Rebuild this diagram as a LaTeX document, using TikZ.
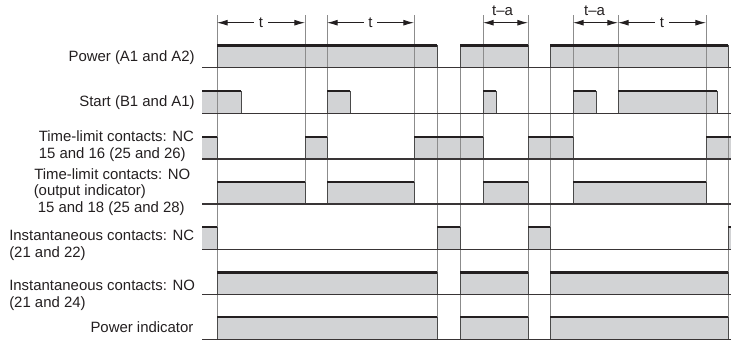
\documentclass[tikz,border=0pt]{standalone}
\usepackage{fontspec}
\setmainfont{Liberation Sans}
\usetikzlibrary{arrows.meta}
\definecolor{tdink}{HTML}{231F20}
\definecolor{tdfill}{HTML}{D2D3D5}
\definecolor{tdgrid}{HTML}{8C8C8C}
\definecolor{tdedge}{HTML}{4A4A4A}

\begin{document}
\begin{tikzpicture}[x=0.75pt,y=-0.75pt,
  lab/.style={font=\fontsize{11.2}{12.5}\selectfont,text=tdink,inner sep=0pt},
  gridline/.style={tdgrid,line width=0.65pt},
  edgeline/.style={tdedge,line width=0.75pt},
  hiline/.style={tdink,line width=1.8pt},
  levelline/.style={tdink!90,line width=0.85pt},
  dimline/.style={tdink,line width=0.65pt,{Latex[length=8pt,width=4.4pt]}-{Latex[length=8pt,width=4.4pt]}}]
  \useasboundingbox (0,0) rectangle (731,343);
  \def\h{22.3}
  % baseline / start / end of every high level
  \def\pulses{67.7/217/437, 67.7/460/528, 67.7/550/728,
    113.3/195/241, 113.3/327/350, 113.3/483/496, 113.3/573/596, 113.3/618/717,
    159/195/217, 159/305/327, 159/414/483, 159/528/573, 159/706/740,
    204/217/305, 204/327/414, 204/483/528, 204/573/706,
    249.3/195/217, 249.3/437/460, 249.3/528/550, 249.3/728/740,
    294.7/217/437, 294.7/460/528, 294.7/550/728,
    339.3/217/437, 339.3/460/528, 339.3/550/728}

  % row labels
  \foreach \n/\x/\y/\a/\lab in {
    power/195/61.7/base east/{Power (A1 and A2)},
    start/195/106/base east/{Start (B1 and A1)},
    tncA/38.5/141.7/base west/{Time-limit contacts: NC},
    tncB/38.5/158.3/base west/{15 and 16 (25 and 26)},
    tnoA/34/179/base west/{Time-limit contacts: NO},
    tnoB/33.5/195.5/base west/{(output indicator)},
    tnoC/37.5/212/base west/{15 and 18 (25 and 28)},
    incA/9/240.5/base west/{Instantaneous contacts: NC},
    incB/9/257/base west/{(21 and 22)},
    inoA/9/290.5/base west/{Instantaneous contacts: NO},
    inoB/9/307/base west/{(21 and 24)},
    pind/193.7/332/base east/{Power indicator}}
    {\node[lab,anchor=\a] (\n) at (\x,\y) {\lab};}

  \begin{scope}
    \clip (202,0) rectangle (731,343);
    \foreach \yb/\xa/\xb in \pulses
      {\fill[tdfill] (\xa,\yb-\h) rectangle (\xb,\yb);}
  \end{scope}

  % timing marks
  \foreach \x/\ya/\yb in {217/15/339.3, 305/15/204, 327/15/204, 414/15/204,
      437/45.4/339.3, 460/45.4/339.3, 483/15/204, 528/15/339.3, 550/45.4/339.3,
      573/15/204, 618/15/113.3, 706/15/204, 728/45.4/339.3}
    {\draw[gridline] (\x,\ya) -- (\x,\yb);}

  \begin{scope}
    \clip (202,0) rectangle (731,343);
    \foreach \yb/\xa/\xb in \pulses
      {\draw[edgeline] (\xa,\yb) -- (\xa,\yb-\h) (\xb,\yb-\h) -- (\xb,\yb);
       \draw[hiline] (\xa,\yb-\h) -- (\xb,\yb-\h);}
    \foreach \yb in {67.7,113.3,159,204,249.3,294.7,339.3}
      {\draw[levelline] (202,\yb) -- (731,\yb);}
  \end{scope}

  % durations
  \foreach \xa/\xb/\n in {217/305/durA, 327/414/durB, 618/706/durE}
    {\draw[dimline] (\xa,22.7) -- node[lab,fill=white,inner xsep=3.5pt] (\n) {t} (\xb,22.7);}
  \foreach \xa/\xb/\xl/\n in {483/528/502.5/durC, 573/618/594.5/durD}
    {\draw[dimline] (\xa,22.7) -- (\xb,22.7);
     \node[lab,anchor=base] (\n) at (\xl,15) {t--a};}
\end{tikzpicture}
\end{document}
